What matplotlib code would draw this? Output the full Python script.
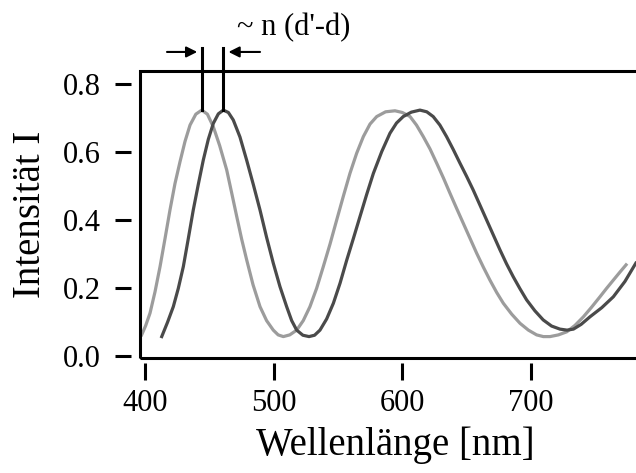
import numpy as np
import matplotlib
matplotlib.use("Agg")
import matplotlib.pyplot as plt
from matplotlib.patches import Rectangle

# ── DATA ─────────────────────────────────────────────────────────────
# light grey curve: thickness d
lam_d = [397.4, 400.5, 403.9, 407.8, 411.7, 415.5, 419.4, 423.3, 427.2, 431.1,
         435.0, 439.5, 444.1, 448.5, 453.1, 458.0, 463.5, 467.4, 471.3, 475.1,
         479.0, 484.0, 489.4, 494.5, 499.7, 503.5, 507.5, 512.5, 517.9, 523.0,
         528.2, 533.4, 538.6, 543.8, 549.0, 554.1, 559.3, 564.5, 569.7, 574.9,
         580.1, 587.0, 594.3, 600.0, 606.0, 611.0, 616.3, 621.5, 626.7, 632.0,
         637.1, 642.2, 647.4, 652.6, 657.8, 663.0, 668.1, 673.3, 678.5, 685.0,
         691.5, 698.0, 704.4, 709.6, 714.8, 721.3, 727.8, 734.2, 740.7, 747.0,
         753.6, 758.8, 764.0, 769.0, 773.9]
int_d = [0.063, 0.090, 0.127, 0.190, 0.264, 0.345, 0.430, 0.508, 0.572, 0.632,
         0.680, 0.712, 0.724, 0.712, 0.675, 0.620, 0.548, 0.480, 0.411, 0.345,
         0.284, 0.210, 0.146, 0.105, 0.077, 0.063, 0.058, 0.063, 0.077, 0.105,
         0.146, 0.200, 0.264, 0.330, 0.401, 0.470, 0.538, 0.597, 0.646, 0.683,
         0.705, 0.719, 0.722, 0.717, 0.705, 0.680, 0.646, 0.610, 0.568, 0.524,
         0.479, 0.435, 0.391, 0.347, 0.303, 0.262, 0.224, 0.188, 0.156, 0.124,
         0.097, 0.077, 0.063, 0.058, 0.058, 0.063, 0.072, 0.091, 0.116, 0.144,
         0.175, 0.200, 0.224, 0.247, 0.269]

# dark grey curve: thickness d'
lam_d2 = [413.0, 417.5, 422.0, 425.9, 429.8, 433.6, 437.5, 441.4, 445.3, 449.2,
          453.1, 457.0, 460.9, 464.8, 468.6, 473.8, 479.0, 484.2, 489.4, 494.5,
          499.7, 504.9, 510.1, 514.0, 517.9, 522.7, 527.5, 531.8, 536.0, 541.2,
          546.4, 551.6, 556.8, 562.0, 567.1, 572.3, 577.5, 584.0, 590.4, 595.5,
          600.7, 607.0, 613.7, 619.0, 624.0, 629.2, 634.4, 639.6, 644.8, 650.0,
          655.1, 660.3, 665.5, 670.7, 675.9, 681.0, 686.2, 691.4, 696.6, 703.0,
          709.5, 716.0, 722.5, 728.0, 733.0, 739.0, 745.8, 755.0, 764.0, 773.0,
          781.5]
int_d2 = [0.058, 0.100, 0.146, 0.200, 0.264, 0.345, 0.430, 0.505, 0.577, 0.638,
          0.685, 0.713, 0.724, 0.717, 0.695, 0.645, 0.577, 0.505, 0.430, 0.350,
          0.274, 0.205, 0.146, 0.105, 0.077, 0.062, 0.058, 0.062, 0.077, 0.110,
          0.156, 0.215, 0.283, 0.347, 0.411, 0.476, 0.538, 0.602, 0.656, 0.686,
          0.705, 0.718, 0.724, 0.719, 0.705, 0.680, 0.646, 0.608, 0.568, 0.529,
          0.489, 0.445, 0.401, 0.357, 0.313, 0.272, 0.234, 0.199, 0.166, 0.134,
          0.107, 0.089, 0.080, 0.077, 0.080, 0.094, 0.116, 0.143, 0.175, 0.220,
          0.274]

x_ticks = [400, 500, 600, 700]
y_ticks = [0.0, 0.2, 0.4, 0.6, 0.8]
marker_top = 0.907          # top of the two peak marker lines
arrow_y = 0.895
label_text = "~ n (d'-d)"

# ── FIGURE ───────────────────────────────────────────────────────────
plt.rcParams["font.family"] = ["Liberation Serif", "DejaVu Serif"]

fig = plt.figure(figsize=(6.36, 4.73), dpi=100)
ax = fig.add_axes([0.2201, 0.2431, 0.8019, 0.6068])

ax.plot(lam_d, int_d, color="#9c9c9c", lw=2.3, solid_joinstyle="round")
ax.plot(lam_d2, int_d2, color="#4a4a4a", lw=2.3, solid_joinstyle="round")

ax.set_xlim(396.1, 792.5)
ax.set_ylim(-0.005, 0.839)

# box drawn separately so the ticks can sit detached from it
for s in ax.spines.values():
    s.set_visible(False)
ax.spines["left"].set_position(("outward", 6.7))
ax.spines["bottom"].set_position(("outward", 3.6))
ax.add_patch(Rectangle((0, 0), 1, 1, transform=ax.transAxes, fill=False,
                       lw=2.2, ec="black", clip_on=False, zorder=5))

ax.set_xticks(x_ticks)
ax.set_yticks(y_ticks)
ax.set_yticklabels([f"{v:.1f}" for v in y_ticks])
ax.tick_params(axis="y", direction="out", length=11.3, width=2.2, pad=10.5,
               labelsize=22)
ax.tick_params(axis="x", direction="out", length=12, width=2.2, pad=7,
               labelsize=22)

ax.set_xlabel("Wellenlänge [nm]", fontsize=28, labelpad=6)
ax.set_ylabel("Intensität I", fontsize=28, labelpad=10)

# peak markers and shift annotation
n1 = 20
peak_d = lam_d[int(np.argmax(int_d[:n1]))]
peak_d2 = lam_d2[int(np.argmax(int_d2[:n1]))]
for pk, pv in [(peak_d, max(int_d[:n1])), (peak_d2, max(int_d2[:n1]))]:
    ax.plot([pk, pk], [pv, marker_top], color="black", lw=2.2,
            clip_on=False, zorder=6)

ax.annotate("", xy=(peak_d - 3.5, arrow_y), xytext=(peak_d - 27, arrow_y),
            arrowprops=dict(arrowstyle="-|>", color="black", lw=1.5,
                            mutation_scale=16, shrinkA=0, shrinkB=0),
            annotation_clip=False)
ax.annotate("", xy=(peak_d2 + 4, arrow_y), xytext=(peak_d2 + 28.5, arrow_y),
            arrowprops=dict(arrowstyle="-|>", color="black", lw=1.5,
                            mutation_scale=16, shrinkA=0, shrinkB=0),
            annotation_clip=False)
ax.text(471.5, 0.966, label_text, fontsize=22, ha="left", va="center",
        clip_on=False)

fig.savefig("out.png", dpi=100)
